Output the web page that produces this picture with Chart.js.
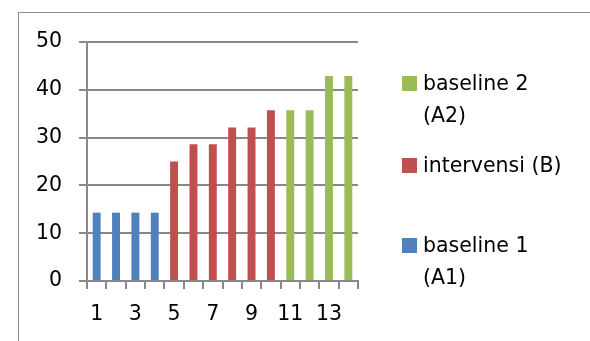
<!DOCTYPE html>
<html>
<head>
<meta charset="utf-8">
<script src="https://cdn.jsdelivr.net/npm/chart.js@4"></script>
<style>
  body { margin: 0; background: #fff; font-family: "DejaVu Sans", sans-serif; }
  #wrap { position: relative; width: 590px; height: 341px; overflow: hidden; }
  #frame { position: absolute; left: 18px; top: 12px; width: 600px; height: 400px;
           border-left: 1px solid #8c8c8c; border-top: 1px solid #8c8c8c; }
  #chart { position: absolute; left: 0; top: 0; }
  .item { position: absolute; left: 402px; width: 175px; }
  .swatch { position: absolute; left: 0; width: 15px; height: 15px; }
  .label { position: absolute; left: 21px; width: 147px; font-size: 20.5px; line-height: 32px; color: #000; }
</style>
</head>
<body>
<div id="wrap">
  <div id="frame"></div>
  <canvas id="chart" width="590" height="341"></canvas>
  <div id="legend"></div>
</div>
<script>
(() => {

  const categories = ['1', '2', '3', '4', '5', '6', '7', '8', '9', '10', '11', '12', '13', '14'];
  const baseline1 = [14.3, 14.3, 14.3, 14.3, null, null, null, null, null, null, null, null, null, null];
  const intervensi = [null, null, null, null, 25, 28.6, 28.6, 32.1, 32.1, 35.7, null, null, null, null];
  const baseline2 = [null, null, null, null, null, null, null, null, null, null, 35.7, 35.7, 42.9, 42.9];
  const seriesNames = ['baseline 1 (A1)', 'intervensi (B)', 'baseline 2 (A2)'];
  const seriesColors = ['#4f81bd', '#c0504d', '#9bbb59'];

  const axisGray = '#888888';
  const font = { family: 'DejaVu Sans', size: 20.5 };

  const ctx = document.getElementById('chart');
  const myChart = new Chart(ctx, {
    type: 'bar',
    data: {
      labels: categories,
      datasets: [baseline1, intervensi, baseline2].map((vals, i) => ({
        label: seriesNames[i],
        data: vals,
        backgroundColor: seriesColors[i],
        borderWidth: 0,
        categoryPercentage: 1,
        barPercentage: 0.41
      }))
    },
    options: {
      responsive: false,
      animation: false,
      layout: { padding: { top: 42, right: 232, bottom: 0, left: 0 } },
      plugins: { legend: { display: false }, tooltip: { enabled: false } },
      scales: {
        x: {
          stacked: true,
          grid: { offset: true, drawOnChartArea: false, drawTicks: true, tickLength: 8, color: axisGray, lineWidth: 2 },
          border: { color: axisGray, width: 2 },
          ticks: {
            color: '#000', font: font, padding: 13, autoSkip: false, maxRotation: 0,
            callback: function (v, i) { return i % 2 === 0 ? this.getLabelForValue(v) : ''; }
          },
          afterFit: (scale) => { scale.height = 60; }
        },
        y: {
          stacked: true,
          min: 0, max: 50,
          grid: { color: axisGray, lineWidth: 2, tickLength: 8 },
          border: { color: axisGray, width: 2 },
          ticks: { stepSize: 10, color: '#000', font: font, padding: 17 },
          afterFit: (scale) => { scale.width = 87; }
        }
      }
    }
  });

  // legend: Excel lists the series in reverse order, spaced down the right side
  const legend = document.getElementById('legend');
  const tops = [229, 149, 67];
  seriesNames.forEach((name, i) => {
    const item = document.createElement('div');
    item.className = 'item';
    item.style.top = tops[i] + 'px';
    const sw = document.createElement('div');
    sw.className = 'swatch';
    sw.style.top = '9px';
    sw.style.background = seriesColors[i];
    const lab = document.createElement('div');
    lab.className = 'label';
    lab.textContent = name;
    item.appendChild(sw);
    item.appendChild(lab);
    legend.appendChild(item);
  });

})();
</script>
</body>
</html>
